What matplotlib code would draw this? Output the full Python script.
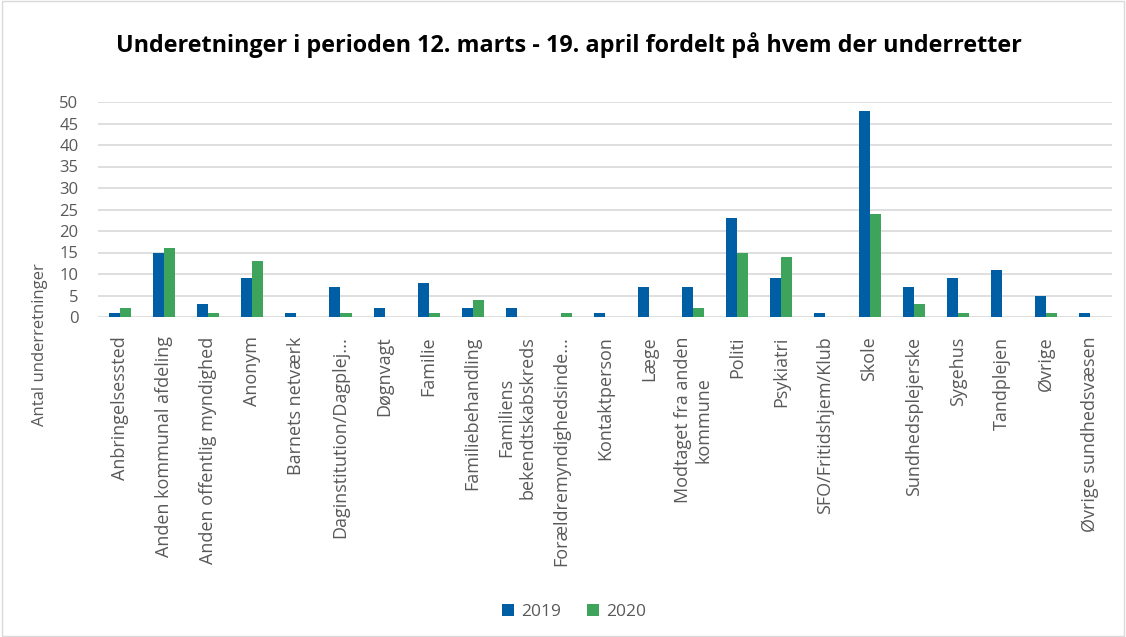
import matplotlib
matplotlib.use("Agg")
import matplotlib.pyplot as plt
import numpy as np
from matplotlib.patches import Rectangle

categories = [
    "Anbringelsessted", "Anden kommunal afdeling", "Anden offentlig myndighed",
    "Anonym", "Barnets netværk", "Daginstitution/Dagplej...", "Døgnvagt",
    "Familie", "Familiebehandling", "Familiens\nbekendtskabskreds",
    "Forældremyndighedsinde...", "Kontaktperson", "Læge",
    "Modtaget fra anden\nkommune", "Politi", "Psykiatri",
    "SFO/Fritidshjem/Klub", "Skole", "Sundhedsplejerske", "Sygehus",
    "Tandplejen", "Øvrige", "Øvrige sundhedsvæsen",
]
values_2019 = [1, 15, 3, 9, 1, 7, 2, 8, 2, 2, 0, 1, 7, 7, 23, 9, 1, 48, 7, 9, 11, 5, 1]
values_2020 = [2, 16, 1, 13, 0, 1, 0, 1, 4, 0, 1, 0, 0, 2, 15, 14, 0, 24, 3, 1, 0, 1, 0]
series_names = ["2019", "2020"]
yticks = list(range(0, 51, 5))

plt.rcParams['font.family'] = ['Open Sans', 'DejaVu Sans']

W, H = 1126, 637
fig = plt.figure(figsize=(W / 100, H / 100), dpi=100)
ax = fig.add_axes([98 / W, 1 - 317 / H, (1112 - 98) / W, (317 - 102) / H])

blue = "#005EA4"
green = "#3FA45B"
grey_text = "#595959"

x = np.arange(len(categories))
bw = 0.25
ax.bar(x - bw / 2, values_2019, bw, color=blue, label=series_names[0], zorder=3)
ax.bar(x + bw / 2, values_2020, bw, color=green, label=series_names[1], zorder=3)

ax.set_xlim(-0.5, len(categories) - 0.5)
ax.set_ylim(0, 50)
ax.set_yticks(yticks)
ax.yaxis.grid(True, color="#D9D9D9", linewidth=1.2, zorder=0)
ax.set_axisbelow(True)
for s in ax.spines.values():
    s.set_visible(False)
ax.tick_params(axis='both', length=0, colors=grey_text)
ax.tick_params(axis='y', labelsize=12, pad=14)
ax.set_xticks(x)
ax.set_xticklabels(categories, rotation=90, fontsize=13, ha='center', va='top',
                   multialignment='center', color=grey_text)
ax.tick_params(axis='x', pad=14)

fig.text(40 / W, 1 - 345 / H, "Antal underretninger", rotation=90, ha='center', va='center',
         fontsize=12, color=grey_text)
fig.text(0.5 * (117 + 1020) / W, 1 - 45 / H,
         "Underetninger i perioden 12. marts - 19. april fordelt på hvem der underretter",
         ha='center', va='center', fontsize=16.8, fontweight='bold', color="#000000")

leg = fig.legend(loc='center', bbox_to_anchor=(574 / W, 1 - 612 / H), ncol=2, frameon=False,
                 fontsize=12.5, handlelength=0.7, handleheight=0.7, columnspacing=1.5,
                 handletextpad=0.4)
for t in leg.get_texts():
    t.set_color(grey_text)

fig.patches.append(Rectangle((0.002, 0.002), 0.996, 0.996, transform=fig.transFigure,
                             fill=False, edgecolor="#D9D9D9", linewidth=1))

fig.savefig("out.png", dpi=100)
